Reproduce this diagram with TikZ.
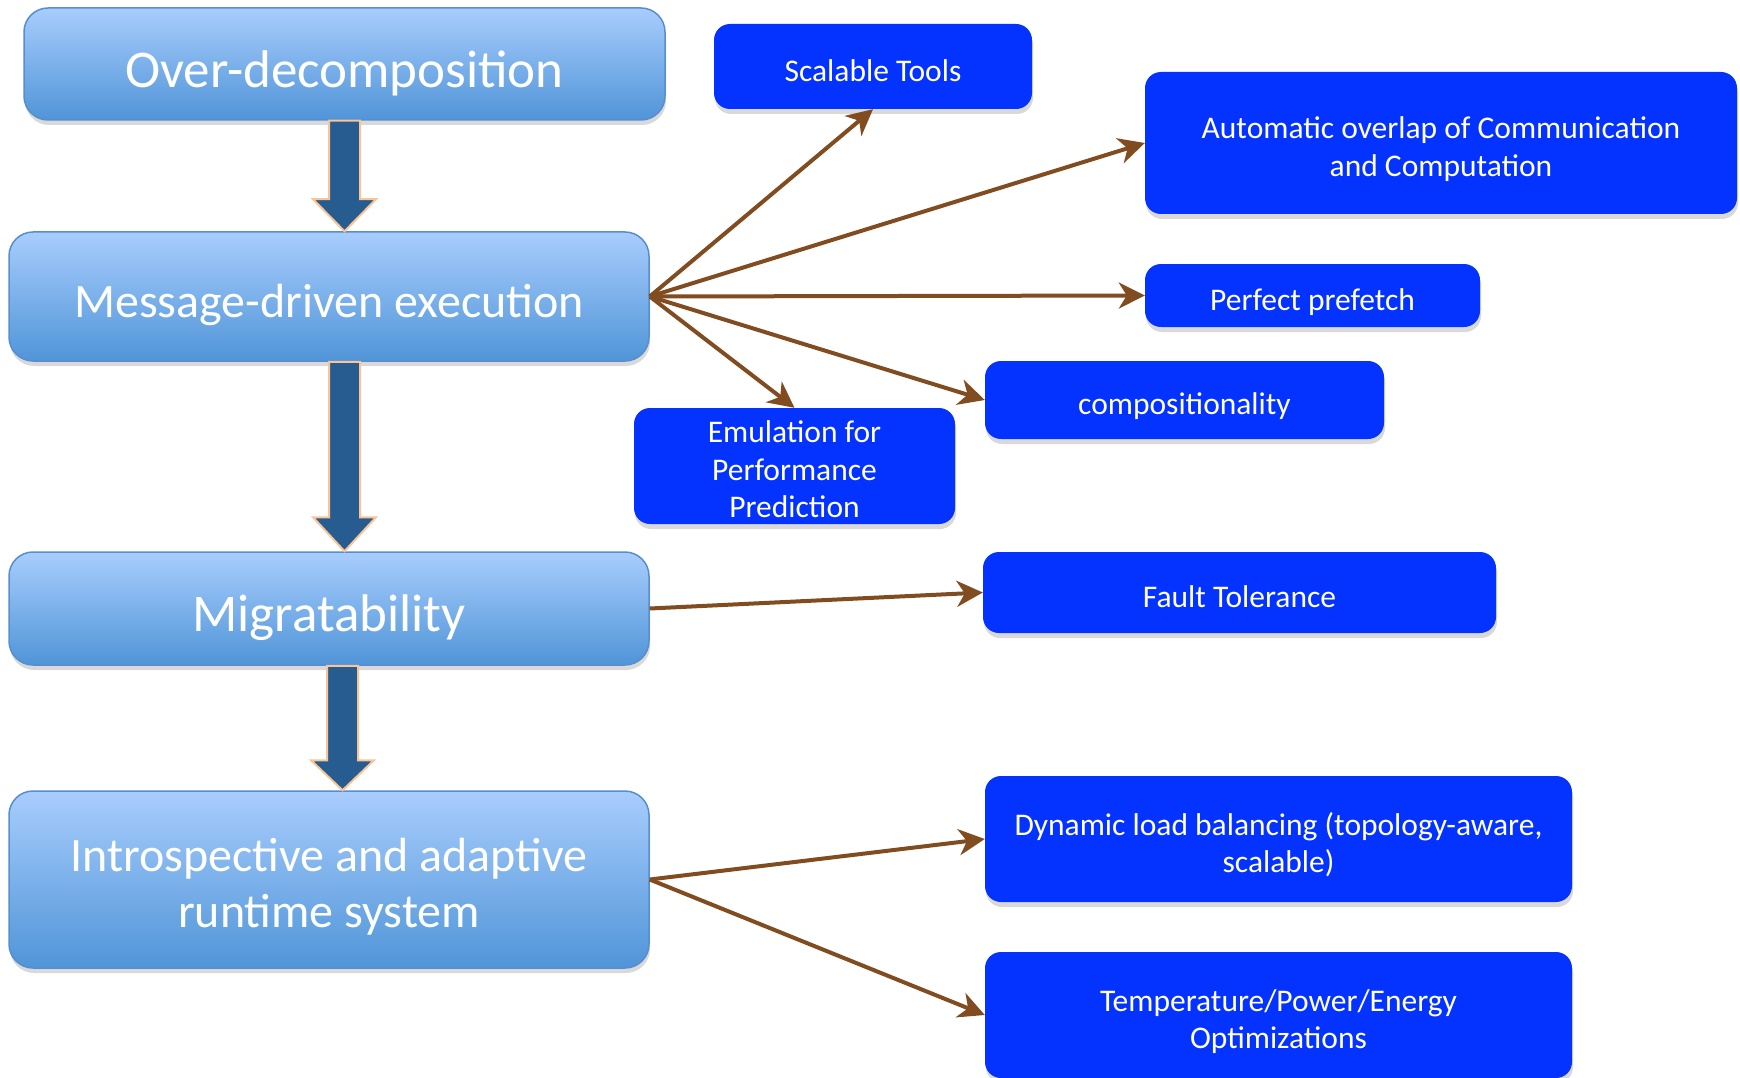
\documentclass[tikz,border=0pt]{standalone}
\usepackage{fontspec}
\setmainfont{Carlito}
\usetikzlibrary{arrows.meta,shadows,calc}

\definecolor{boxtop}{RGB}{168,205,253}
\definecolor{boxbottom}{RGB}{80,149,216}
\definecolor{boxline}{RGB}{86,142,208}
\definecolor{subblue}{RGB}{4,51,255}
\definecolor{linkbrown}{RGB}{128,76,32}
\definecolor{arrowblue}{RGB}{39,92,145}
\definecolor{arrowrim}{RGB}{250,196,150}

\begin{document}
\begin{tikzpicture}[x=1pt, y=-1pt,
  mainbox/.style={draw=boxline, line width=1.5pt, rounded corners=24pt, top color=boxtop, bottom color=boxbottom, text=white, align=center, inner sep=0pt, text depth=0pt, drop shadow={shadow xshift=1pt, shadow yshift=-5pt, opacity=0.3}},
  subbox/.style={fill=subblue, rounded corners=16pt, text=white, align=center, inner sep=0pt, text depth=0pt, font=\fontsize{31.5}{37.5}\selectfont, drop shadow={shadow xshift=1pt, shadow yshift=-5pt, opacity=0.3}},
  lift/.style={execute at begin node={\rule{0pt}{#1}}},
  link/.style={draw=linkbrown, line width=4pt, -{Stealth[length=26pt, width=26pt, inset=8pt]}},
  bigarrow/.style={fill=arrowblue, draw=arrowrim, line width=2pt}]
\useasboundingbox (0,0) rectangle (1740,1078);
% Specification of nodes (position, etc.)

\node (over)     [mainbox, lift=0.88em, minimum width=641pt, minimum height=112pt, font=\fontsize{53}{60}\selectfont] at (344.5,64)  {Over-decomposition};
\node (msg)      [mainbox, lift=0.88em, minimum width=640pt, minimum height=129pt, font=\fontsize{48}{56}\selectfont] at (329,296.5)  {Message-driven execution};
\node (mig)      [mainbox, lift=0.88em, minimum width=640pt, minimum height=113pt, font=\fontsize{53}{60}\selectfont] at (329,608.5)  {Migratability};
\node (intro)    [mainbox, text height=96pt, minimum width=640pt, minimum height=177pt, font=\fontsize{48}{56}\selectfont] at (329,879.5)  {Introspective and adaptive\\runtime system};

\node (tools)    [subbox, lift=0.95em, minimum width=318pt, minimum height=85pt]  at (873,66.5)    {Scalable Tools};
\node (overlap)  [subbox, text height=67pt, minimum width=592pt, minimum height=142pt] at (1441,143)    {Automatic overlap of Communication\\and Computation};
\node (prefetch) [subbox, lift=0.95em, minimum width=335pt, minimum height=63pt]  at (1312.5,295.5) {Perfect prefetch};
\node (compos)   [subbox, lift=0.95em, minimum width=399pt, minimum height=78pt]  at (1184.5,400)  {compositionality};
\node (emul)     [subbox, text height=103pt, minimum width=321pt, minimum height=116pt] at (794.5,466)   {Emulation for\\Performance\\Prediction};
\node (fault)    [subbox, lift=0.95em, minimum width=513pt, minimum height=81pt]  at (1239.5,592.5) {Fault Tolerance};
\node (dyn)      [subbox, text height=67pt, minimum width=587pt, minimum height=126pt] at (1278.5,839)  {Dynamic load balancing (topology-aware,\\scalable)};
\node (temp)     [subbox, text height=67pt, minimum width=587pt, minimum height=126pt] at (1278.5,1015) {Temperature/Power/Energy\\Optimizations};

% block arrows down the left column
\draw[bigarrow] let \p1=(over.south), \p2=(msg.north) in
  (\x1-15.5pt,\y1) -- (\x1+15.5pt,\y1) -- (\x1+15.5pt,\y2+32pt) -- (\x1+31.5pt,\y2+32pt)
  -- (\x1,\y2) -- (\x1-31.5pt,\y2+32pt) -- (\x1-15.5pt,\y2+32pt) -- cycle;
\draw[bigarrow] let \p1=(over.south |- msg.south), \p2=(over.south |- mig.north) in
  (\x1-15.5pt,\y1) -- (\x1+15.5pt,\y1) -- (\x1+15.5pt,\y2+34pt) -- (\x1+31.5pt,\y2+34pt)
  -- (\x1,\y2) -- (\x1-31.5pt,\y2+34pt) -- (\x1-15.5pt,\y2+34pt) -- cycle;
\draw[bigarrow] let \p1=(over.south |- mig.south), \p2=(over.south |- intro.north) in
  (\x1-17.5pt,\y1) -- (\x1+13.5pt,\y1) -- (\x1+13.5pt,\y2+30pt) -- (\x1+29.5pt,\y2+30pt)
  -- (\x1-2pt,\y2) -- (\x1-33.5pt,\y2+30pt) -- (\x1-17.5pt,\y2+30pt) -- cycle;

% links to the features
\draw[link] (msg.east) -- (tools.south);
\draw[link] (msg.east) -- (overlap.west);
\draw[link] (msg.east) -- (prefetch.west);
\draw[link] (msg.east) -- (compos.west);
\draw[link] (msg.east) -- (emul.north);
\draw[link] (mig.east) -- (fault.west);
\draw[link] (intro.east) -- (dyn.west);
\draw[link] (intro.east) -- (temp.west);

\end{tikzpicture}
\end{document}
